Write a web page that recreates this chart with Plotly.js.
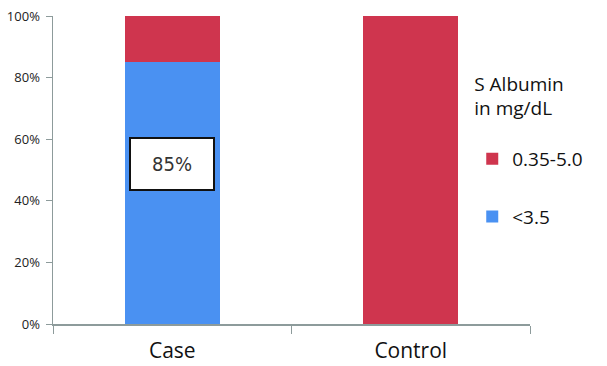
<!DOCTYPE html>
<html>
<head>
<meta charset="utf-8">
<script src="https://cdn.plot.ly/plotly-3.0.1.min.js"></script>
<style>html,body{margin:0;padding:0;background:#fff;}#chart{width:607px;height:366px;}</style>
</head>
<body>
<div id="chart"></div>
<script>
var categories = ["Case", "Control"];
var lowAlbumin = [85, 0];        // "<3.5"
var normalAlbumin = [15, 100];   // "0.35-5.0"
var seriesNames = ["<3.5", "0.35-5.0"];
var yTickVals = [0, 20, 40, 60, 80, 100];
var yTickText = ["0%", "20%", "40%", "60%", "80%", "100%"];
var labelText = "85%";
var labelY = 52;

var traces = [
  {type: "bar", x: categories, y: lowAlbumin, name: seriesNames[0],
   marker: {color: "#4a91f2"}, width: 0.4, legendgroup: "a", legendrank: 2, hoverinfo: "none"},
  {type: "bar", x: categories, y: normalAlbumin, name: seriesNames[1],
   marker: {color: "#cf354e"}, width: 0.4, legendgroup: "b", legendrank: 1, hoverinfo: "none"}
];

var layout = {
  width: 607, height: 366,
  margin: {l: 53, r: 77, t: 16, b: 42, autoexpand: false},
  barmode: "stack",
  paper_bgcolor: "#fff", plot_bgcolor: "#fff",
  font: {family: "Open Sans, Lato, sans-serif", color: "#222"},
  xaxis: {
    range: [-0.5, 1.5], showline: true, linecolor: "#8d9b9b", linewidth: 1.5,
    ticks: "outside", tickson: "boundaries", ticklen: 8, tickcolor: "#8d9b9b",
    ticklabelstandoff: 7,
    tickfont: {size: 21, color: "#111"}, showgrid: false, zeroline: false
  },
  yaxis: {
    range: [0, 100], tickvals: yTickVals, ticktext: yTickText,
    showline: true, linecolor: "#8d9b9b", linewidth: 1.5,
    ticks: "outside", ticklen: 6, tickcolor: "#8d9b9b",
    ticklabelstandoff: 3,
    tickfont: {size: 13, color: "#222"}, showgrid: false, zeroline: false
  },
  showlegend: true,
  legend: {
    xref: "container", yref: "container", x: 0.778, y: 0.82,
    xanchor: "left", yanchor: "top",
    traceorder: "grouped", tracegroupgap: 30,
    title: {text: "S Albumin<br>in mg/dL<br> ", font: {size: 19, color: "#111"}, side: "top"},
    font: {size: 19, color: "#111"}, bgcolor: "rgba(0,0,0,0)"
  },
  annotations: [{
    x: "Case", y: labelY, xref: "x", yref: "y", text: labelText, showarrow: false,
    bgcolor: "#fff", bordercolor: "#111", borderwidth: 2, width: 80, height: 48,
    font: {size: 20, color: "#333", family: "Liberation Sans Narrow, DejaVu Sans Condensed, sans-serif"}
  }]
};

Plotly.newPlot("chart", traces, layout, {staticPlot: true});
</script>
</body>
</html>
